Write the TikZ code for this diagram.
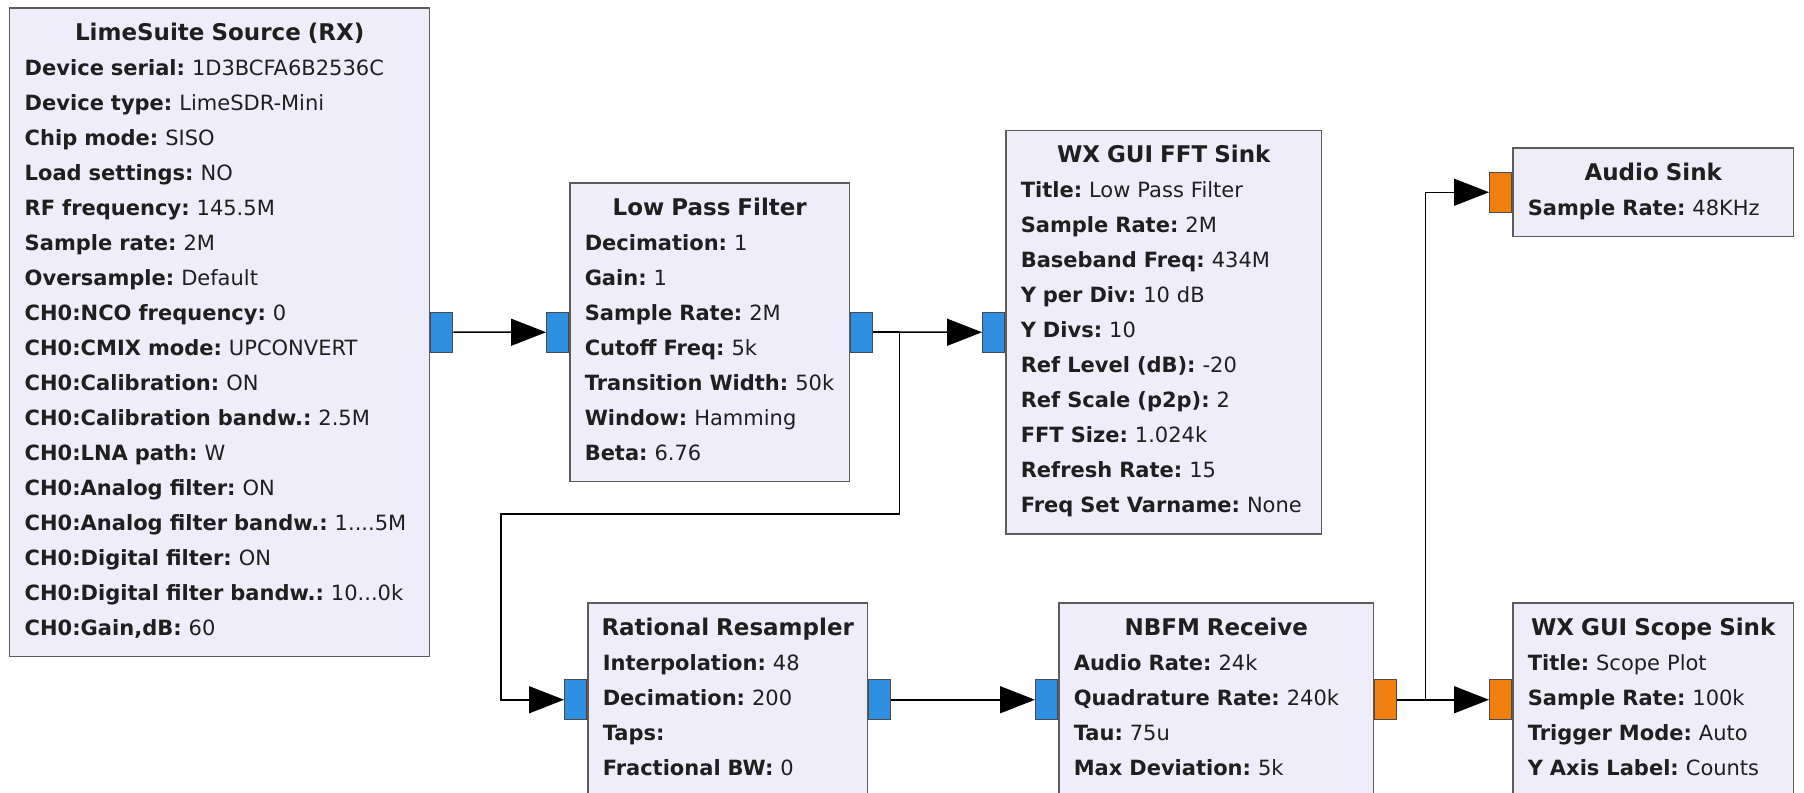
\documentclass[tikz,border=0pt]{standalone}
\usepackage{fontspec}
\setmainfont{DejaVu Sans}
\usepackage{tikz}
\usetikzlibrary{arrows.meta}

\definecolor{blockfill}{HTML}{EFEDFA}
\definecolor{blockedge}{HTML}{5C5C5C}
\definecolor{portblue}{HTML}{2E8FE0}
\definecolor{portorange}{HTML}{F28010}
\definecolor{portedge}{HTML}{4A4A4A}

\frenchspacing
% one strut per line keeps the rows 35px apart
\newcommand{\gs}{\rule[-0.232cm]{0pt}{0.68cm}}
\newcommand{\btitle}[1]{\gs\makebox[\hsize]{\fontsize{13.09}{19.92}\selectfont\bfseries #1}}
\newcommand{\bparam}[2]{\mbox{\gs\textbf{#1:} #2}}

\begin{document}
\begin{tikzpicture}[x=0.02cm,y=-0.02cm,
  block/.style={draw=blockedge, line width=0.03cm, fill=blockfill, anchor=north west,
    align=left, inner xsep=0.3cm, inner ysep=0.2cm, text=black!88,
    execute at begin node=\setlength{\parindent}{0pt},
    font=\fontsize{11.95}{19.92}\selectfont},
  port/.style={draw=portedge, line width=0.02cm, minimum width=0.44cm,
    minimum height=0.8cm, inner sep=0pt},
  inport/.style={port, anchor=east},
  outport/.style={port, anchor=west},
  wire/.style={line width=0.03cm},
  flow/.style={wire, -{Triangle[length=0.7cm,width=0.54cm]}}]

  \useasboundingbox (0,0) rectangle (1804,792);
  \fill[white] (0,0) rectangle (1804,792);
  \clip (0,0) rectangle (1804,792);

  % Blocks
  \node[block, text width=7.8cm] (lime) at (9,7) {%
    \btitle{LimeSuite Source (RX)}\\
    \bparam{Device serial}{1D3BCFA6B2536C}\\
    \bparam{Device type}{LimeSDR-Mini}\\
    \bparam{Chip mode}{SISO}\\
    \bparam{Load settings}{NO}\\
    \bparam{RF frequency}{145.5M}\\
    \bparam{Sample rate}{2M}\\
    \bparam{Oversample}{Default}\\
    \bparam{CH0:NCO frequency}{0}\\
    \bparam{CH0:CMIX mode}{UPCONVERT}\\
    \bparam{CH0:Calibration}{ON}\\
    \bparam{CH0:Calibration bandw.}{2.5M}\\
    \bparam{CH0:LNA path}{W}\\
    \bparam{CH0:Analog filter}{ON}\\
    \bparam{CH0:Analog filter bandw.}{1....5M}\\
    \bparam{CH0:Digital filter}{ON}\\
    \bparam{CH0:Digital filter bandw.}{10...0k}\\
    \bparam{CH0:Gain,dB}{60}};

  \node[block, text width=5cm] (lpf) at (569,182) {%
    \btitle{Low Pass Filter}\\
    \bparam{Decimation}{1}\\
    \bparam{Gain}{1}\\
    \bparam{Sample Rate}{2M}\\
    \bparam{Cutoff Freq}{5k}\\
    \bparam{Transition Width}{50k}\\
    \bparam{Window}{Hamming}\\
    \bparam{Beta}{6.76}};

  \node[block, text width=5.72cm] (fft) at (1005,129.5) {%
    \btitle{WX GUI FFT Sink}\\
    \bparam{Title}{Low Pass Filter}\\
    \bparam{Sample Rate}{2M}\\
    \bparam{Baseband Freq}{434M}\\
    \bparam{Y per Div}{10 dB}\\
    \bparam{Y Divs}{10}\\
    \bparam{Ref Level (dB)}{-20}\\
    \bparam{Ref Scale (p2p)}{2}\\
    \bparam{FFT Size}{1.024k}\\
    \bparam{Refresh Rate}{15}\\
    \bparam{Freq Set Varname}{None}};

  \node[block, text width=5.02cm] (audio) at (1512,147) {%
    \btitle{Audio Sink}\\
    \bparam{Sample Rate}{48KHz}};

  \node[block, text width=5cm] (resamp) at (587,602) {%
    \btitle{Rational Resampler}\\
    \bparam{Interpolation}{48}\\
    \bparam{Decimation}{200}\\
    \bparam{Taps}{}\\
    \bparam{Fractional BW}{0}};

  \node[block, text width=5.7cm] (nbfm) at (1058,602) {%
    \btitle{NBFM Receive}\\
    \bparam{Audio Rate}{24k}\\
    \bparam{Quadrature Rate}{240k}\\
    \bparam{Tau}{75u}\\
    \bparam{Max Deviation}{5k}};

  \node[block, text width=5.02cm] (scope) at (1512,602) {%
    \btitle{WX GUI Scope Sink}\\
    \bparam{Title}{Scope Plot}\\
    \bparam{Sample Rate}{100k}\\
    \bparam{Trigger Mode}{Auto}\\
    \bparam{Y Axis Label}{Counts}};

  % Ports
  \node[outport, fill=portblue] (lime-o) at (lime.east) {};
  \node[inport, fill=portblue] (lpf-i) at (lpf.west) {};
  \node[outport, fill=portblue] (lpf-o) at (lpf.east) {};
  \node[inport, fill=portblue] (fft-i) at (fft.west) {};
  \node[inport, fill=portorange] (audio-i) at (audio.west) {};
  \node[inport, fill=portblue] (resamp-i) at (resamp.west) {};
  \node[outport, fill=portblue] (resamp-o) at (resamp.east) {};
  \node[inport, fill=portblue] (nbfm-i) at (nbfm.west) {};
  \node[outport, fill=portorange] (nbfm-o) at (nbfm.east) {};
  \node[inport, fill=portorange] (scope-i) at (scope.west) {};

  % Connections
  \coordinate (bend) at (501,514);
  \draw[flow] (lime-o.east) -- (lpf-i.west);
  \draw[flow] (lpf-o.east) -- (fft-i.west);
  \draw[flow] (lpf-o.east) -- ++(26,0) |- (bend) |- (resamp-i.west);
  \draw[flow] (resamp-o.east) -- (nbfm-i.west);
  \draw[flow] (nbfm-o.east) -- (scope-i.west);
  \draw[flow] (nbfm-o.east) -- ++(28,0) |- (audio-i.west);
\end{tikzpicture}
\end{document}
